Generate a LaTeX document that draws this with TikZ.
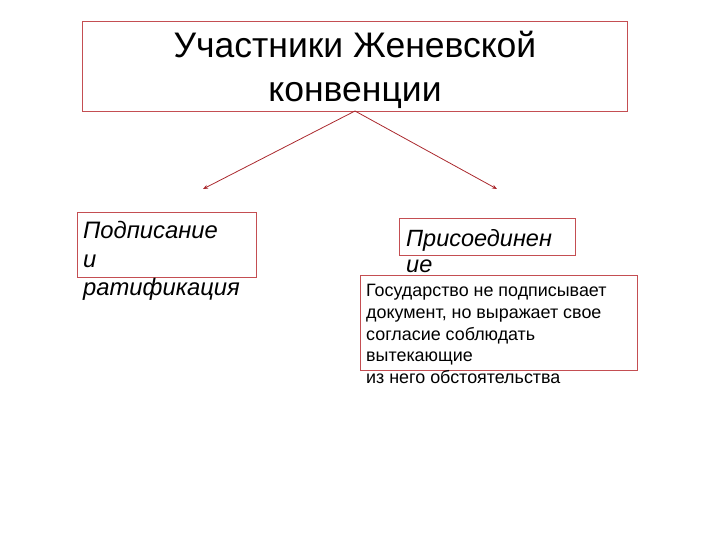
\documentclass[tikz,border=0pt]{standalone}
\usepackage{fontspec}
\setmainfont{Liberation Sans}
\usetikzlibrary{arrows.meta}
\definecolor{boxred}{RGB}{196,78,82}
\definecolor{arrred}{RGB}{170,40,45}
\tikzset{
  frame/.style={draw=boxred, line width=0.9pt, fill=none},
  txt/.style={anchor=base west, inner sep=0pt, align=left, text=black},
  conn/.style={draw=arrred, line width=0.8pt, -{Stealth[length=5pt,width=4pt]}}
}
\begin{document}
\begin{tikzpicture}[x=1pt,y=-1pt]
\useasboundingbox (0,0) rectangle (720,540);
% title
\draw[frame] (82,21) rectangle (627,111);
\node[inner sep=0pt, anchor=base, font=\fontsize{35.5}{45}\selectfont] (t1) at (355,58) {Участники Женевской};
\node[inner sep=0pt, anchor=base, font=\fontsize{35.5}{45}\selectfont] (t2) at (355,102) {конвенции};
\coordinate (top) at (355,111);
\coordinate (lt) at (203,189);
\coordinate (rt) at (497,189);
\draw[conn] (top) -- (lt);
\draw[conn] (top) -- (rt);
% left
\draw[frame] (77,212) rectangle (256,277);
\node[txt, font=\fontsize{23.8}{26}\selectfont\itshape] (l1) at (83,239) {Подписание};
\node[txt, font=\fontsize{23.8}{26}\selectfont\itshape] (l2) at (83,267) {и};
\node[txt, font=\fontsize{23.8}{26}\selectfont\itshape] (l3) at (83,295) {ратификация};
% right
\draw[frame] (399,218) rectangle (575,255);
\node[txt, font=\fontsize{23.5}{26}\selectfont\itshape] (r1) at (406,247) {Присоединен};
\node[txt, font=\fontsize{23.5}{26}\selectfont\itshape] (r2) at (406,272) {ие};
% description
\draw[frame] (360,275) rectangle (637,370);
\node[txt, font=\fontsize{17.9}{20}\selectfont] (d1) at (366,296) {Государство не подписывает};
\node[txt, font=\fontsize{17.9}{20}\selectfont] (d2) at (366,318) {документ, но выражает свое};
\node[txt, font=\fontsize{17.9}{20}\selectfont] (d3) at (366,340) {согласие соблюдать};
\node[txt, font=\fontsize{17.9}{20}\selectfont] (d4) at (366,361) {вытекающие};
\node[txt, font=\fontsize{17.9}{20}\selectfont] (d5) at (366,383) {из него обстоятельства};
\end{tikzpicture}
\end{document}
